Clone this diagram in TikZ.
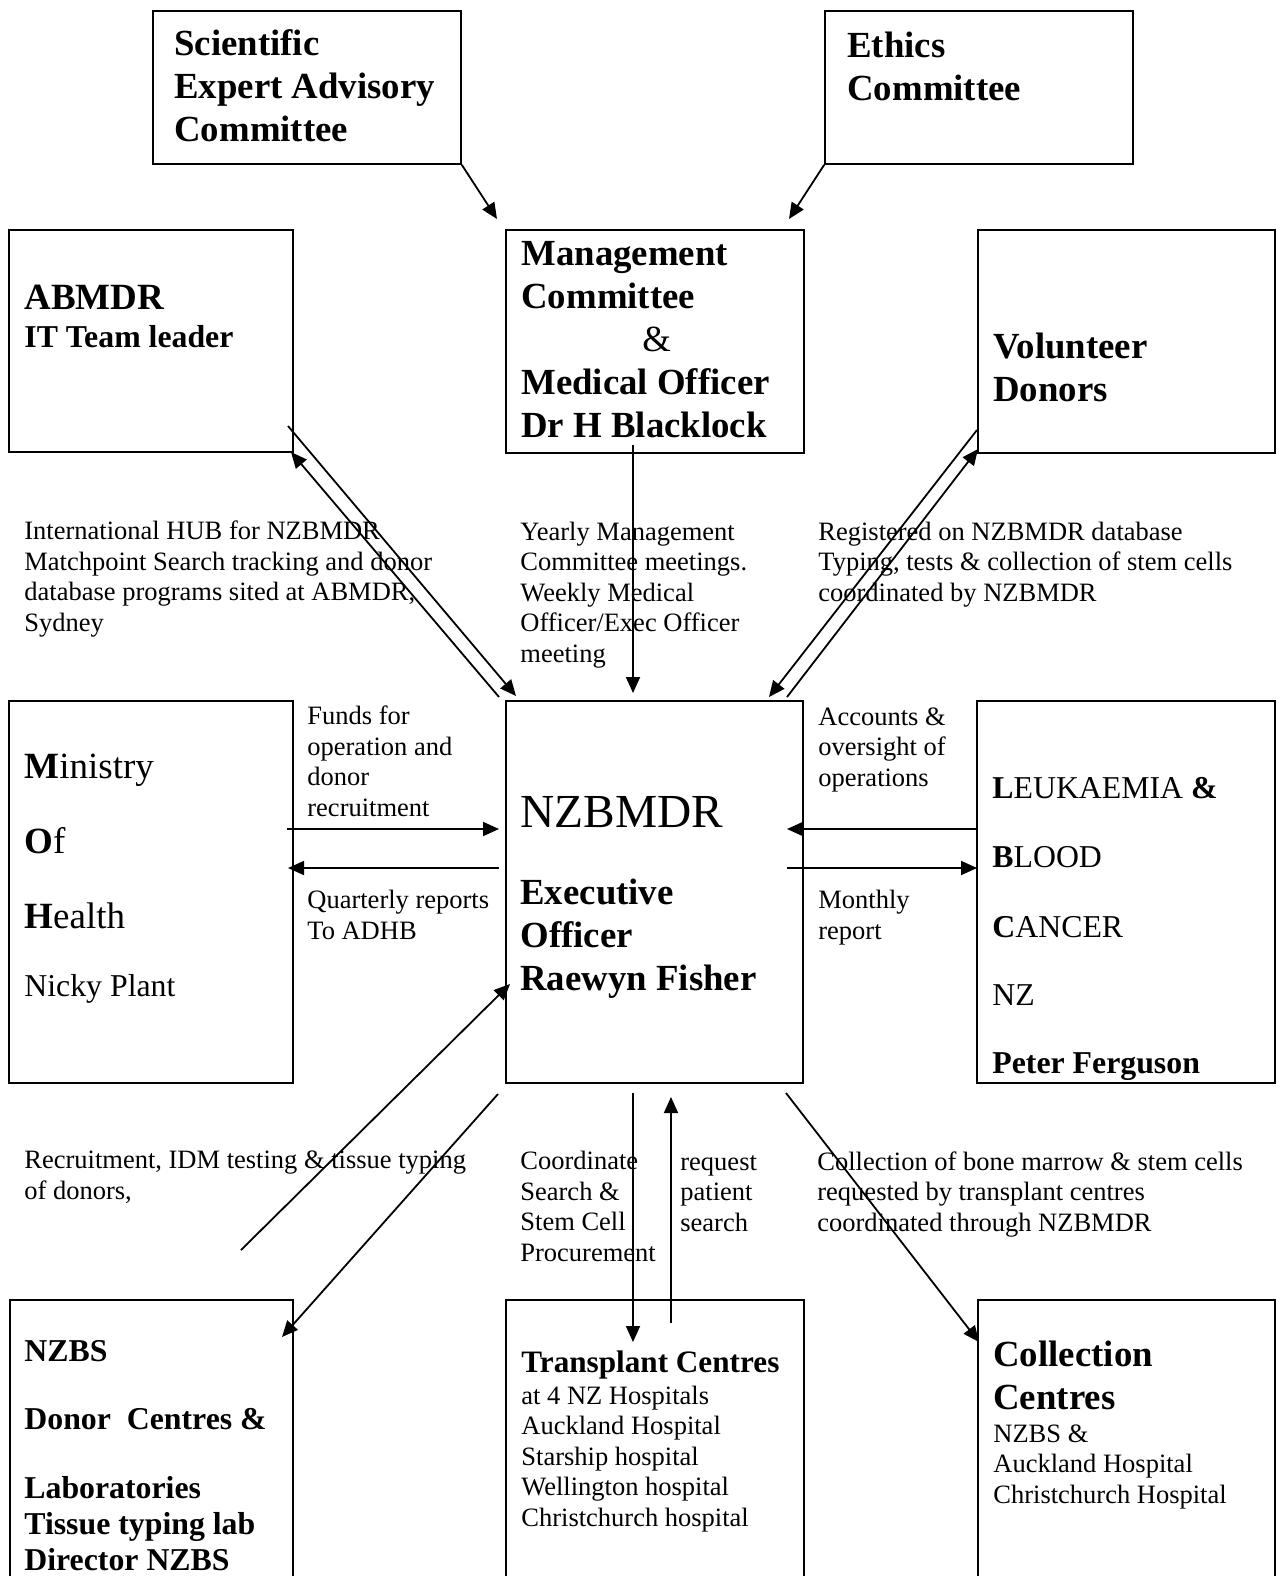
\documentclass[tikz,border=0pt]{standalone}
\usepackage{fontspec}
\setmainfont{Liberation Serif}
\usetikzlibrary{arrows.meta,fit}
\begin{document}
\begin{tikzpicture}[x=0.5pt,y=-0.5pt,
  box/.style={draw, line width=1pt, inner sep=0pt},
  thinbox/.style={draw, line width=0.8pt, inner sep=0pt},
  arr/.style={line width=0.9pt, -{Triangle[length=8pt,width=7pt]}},
  sm/.style={anchor=base west, inner sep=0pt, align=left, font=\fontsize{13.25}{15.2}\selectfont},
  bg/.style={anchor=base west, inner sep=0pt, align=left, font=\fontsize{18.4}{21.5}\selectfont\bfseries},
  md/.style={anchor=base west, inner sep=0pt, align=left, font=\fontsize{15.9}{19}\selectfont},
  mdb/.style={anchor=base west, inner sep=0pt, align=left, font=\fontsize{15.9}{18}\selectfont\bfseries},
  lg/.style={anchor=base west, inner sep=0pt, align=left, font=\fontsize{18.5}{21.5}\selectfont}]
\useasboundingbox (0,0) rectangle (1276,1576);
\clip (0,0) rectangle (1276,1576);
% boxes
\node[thinbox, fit={(153,11) (461,164)}] (sci) {};
\node[thinbox, fit={(825,11) (1133,164)}] (eth) {};
\node[box, fit={(506,230) (804,453)}] (mgmt) {};
\node[box, fit={(9,230) (293,452)}] (abm) {};
\node[box, fit={(978,230) (1275,453)}] (vol) {};
\node[box, fit={(9,701) (293,1083)}] (moh) {};
\node[box, fit={(506,701) (803,1083)}] (nzb) {};
\node[box, fit={(977,701) (1275,1083)}] (lbc) {};
\node[box, fit={(10,1300) (293,1620)}] (nzbs) {};
\node[box, fit={(506,1300) (804,1620)}] (tc) {};
\node[box, fit={(978,1300) (1275,1620)}] (cc) {};
% box texts (base = last line)
\node[bg] (sci-t) at (174,141) {Scientific\\Expert Advisory\\Committee};
\node[bg] (eth-t) at (847,100) {Ethics\\Committee};
\node[bg, font=\fontsize{18.5}{21.5}\selectfont\bfseries] (abm-t1) at (24,309) {ABMDR};
\node[mdb] (abm-t2) at (24,347) {IT Team leader};
\node[bg] (mgmt-t) at (521,437) {Management\\Committee\\\hspace*{60.5pt}{\mdseries\&}\\Medical Officer\\Dr H Blacklock};
\node[bg] (vol-t) at (993,401) {Volunteer\\Donors};
\node[lg] (moh-t1) at (24,778) {\textbf{M}inistry};
\node[lg] (moh-t2) at (24,853) {\textbf{O}f};
\node[lg] (moh-t3) at (24,928) {\textbf{H}ealth};
\node[md] (moh-t4) at (24,996) {Nicky Plant};
\node[anchor=base west, inner sep=0pt, font=\fontsize{23.7}{28}\selectfont] (nzb-t1) at (520,827) {NZBMDR};
\node[bg] (nzb-t2) at (520,990) {Executive\\Officer\\Raewyn Fisher};
\node[md] (lbc-t1) at (992,798) {\textbf{L}EUKAEMIA \textbf{\&}};
\node[md] (lbc-t2) at (992,867) {\textbf{B}LOOD};
\node[md] (lbc-t3) at (992,937) {\textbf{C}ANCER};
\node[md] (lbc-t4) at (992,1005) {NZ};
\node[md] (lbc-t5) at (992,1073) {\textbf{Peter Ferguson}};
\node[mdb] (nzbs-t1) at (24,1361) {NZBS};
\node[mdb] (nzbs-t2) at (24,1429) {Donor\ \ Centres \&};
\node[mdb] (nzbs-t3) at (24,1570) {Laboratories\\Tissue typing lab\\Director NZBS};
\node[mdb, font=\fontsize{15.6}{18}\selectfont\bfseries] (tc-t1) at (521,1372) {Transplant Centres};
\node[sm] (tc-t2) at (521,1526) {at 4 NZ Hospitals\\Auckland Hospital\\Starship hospital\\Wellington hospital\\Christchurch hospital};
\node[bg] (cc-t1) at (993,1409) {Collection\\Centres};
\node[sm] (cc-t2) at (993,1503) {NZBS \&\\Auckland Hospital\\Christchurch Hospital};
% connector labels
\node[sm] (hub-t) at (24,631) {International HUB for NZBMDR\\Matchpoint Search tracking and donor\\database programs sited at ABMDR,\\Sydney};
\node[sm] (yr-t) at (520,662) {Yearly Management\\Committee meetings.\\Weekly Medical\\Officer/Exec Officer\\meeting};
\node[sm] (reg-t) at (818,601) {Registered on NZBMDR database\\Typing, tests \& collection of stem cells\\coordinated by NZBMDR};
\node[sm] (fund-t) at (307,816) {Funds for\\operation and\\donor\\recruitment};
\node[sm] (qr-t) at (307,939) {Quarterly reports\\To ADHB};
\node[sm] (acc-t) at (818,786) {Accounts \&\\oversight of\\operations};
\node[sm] (mon-t) at (818,939) {Monthly\\report};
\node[sm] (rec-t) at (24,1199) {Recruitment, IDM testing \& tissue typing\\of donors,};
\node[sm] (crd-t) at (520,1261) {Coordinate\\Search \&\\Stem Cell\\Procurement};
\node[sm] (req-t) at (680,1231) {request\\patient\\search};
\node[sm] (col-t) at (817,1231) {Collection of bone marrow \& stem cells\\requested by transplant centres\\coordinated through NZBMDR};
% connector end points
\coordinate (c1) at (497,219);
\coordinate (c2) at (789,219);
\coordinate (m1) at (633,445);
\coordinate (m2) at (633,693);
\coordinate (a1) at (288,426);
\coordinate (a2) at (516,696);
\coordinate (a3) at (499,697);
\coordinate (a4) at (291,452);
\coordinate (v1) at (977,430);
\coordinate (v2) at (769,697);
\coordinate (v3) at (787,697);
\coordinate (v4) at (978,449);
\coordinate (h1) at (287,829);
\coordinate (h2) at (499,829);
\coordinate (h3) at (499,868);
\coordinate (h4) at (288,868);
\coordinate (l1) at (977,829);
\coordinate (l2) at (787,829);
\coordinate (l3) at (787,868);
\coordinate (l4) at (977,868);
\coordinate (r1) at (241,1250);
\coordinate (r2) at (510,984);
\coordinate (s1) at (498,1094);
\coordinate (s2) at (282,1337);
\coordinate (t1) at (633,1093);
\coordinate (t2) at (633,1342);
\coordinate (t3) at (671,1323);
\coordinate (t4) at (671,1097);
\coordinate (k1) at (786,1093);
\coordinate (k2) at (979,1342);
% connectors
\draw[arr] (sci.south east) -- (c1);
\draw[arr] (eth.south west) -- (c2);
\draw[arr] (m1) -- (m2);
\draw[arr] (a1) -- (a2);
\draw[arr] (a3) -- (a4);
\draw[arr] (v1) -- (v2);
\draw[arr] (v3) -- (v4);
\draw[arr] (h1) -- (h2);
\draw[arr] (h3) -- (h4);
\draw[arr] (l1) -- (l2);
\draw[arr] (l3) -- (l4);
\draw[arr] (r1) -- (r2);
\draw[arr] (s1) -- (s2);
\draw[arr] (t1) -- (t2);
\draw[arr] (t3) -- (t4);
\draw[arr] (k1) -- (k2);
\end{tikzpicture}
\end{document}
